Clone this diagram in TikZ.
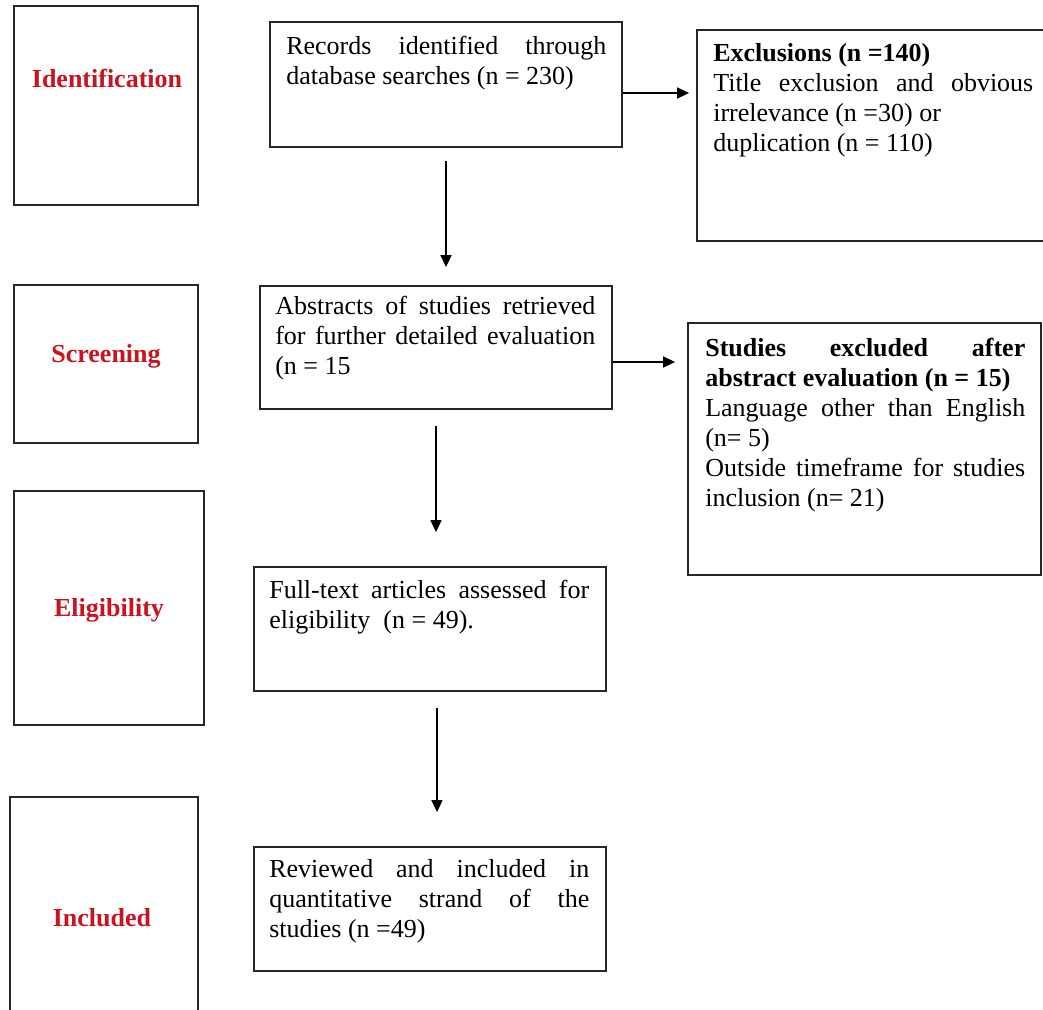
\documentclass[tikz,border=0pt]{standalone}
\usepackage{fontspec}
\setmainfont{Liberation Serif}
\usetikzlibrary{arrows.meta,calc}
\definecolor{stagered}{RGB}{200,20,30}
\begin{document}
\begin{tikzpicture}[x=1pt,y=-1pt,
  frame/.style={draw=black!85, line width=1.8pt, inner sep=0pt},
  stagelabel/.style={text=stagered, font=\fontsize{26}{30}\selectfont\bfseries, inner sep=0pt},
  txt/.style={anchor=north west, text width=320pt, align=justify, inner sep=0pt, font=\fontsize{26}{30}\selectfont},
  arr/.style={draw=black, line width=1.6pt, -{Triangle[length=12pt,width=11pt]}}]
\useasboundingbox (0,0) rectangle (1043,1009);

% stage boxes
\node[frame, minimum width=184pt, minimum height=199pt] (idb) at (106,105.5) {};
\node[frame, minimum width=184pt, minimum height=158pt] (scb) at (106,364) {};
\node[frame, minimum width=190pt, minimum height=234pt] (elb) at (109,608) {};
\node[frame, minimum width=188pt, minimum height=223pt] (inb) at (104,908.5) {};
\node[stagelabel] (idl) at (107,78) {Identification};
\node[stagelabel] (scl) at (106,356) {Screening};
\node[stagelabel] (ell) at (109,610) {Eligibility};
\node[stagelabel] (inl) at (102,918) {Included};

% main flow boxes
\node[frame, minimum width=352pt, minimum height=125pt] (rec) at (446,84.5) {};
\node[frame, minimum width=352pt, minimum height=123pt] (abs) at (436,347.5) {};
\node[frame, minimum width=352pt, minimum height=124pt] (ft) at (430,629) {};
\node[frame, minimum width=352pt, minimum height=124pt] (rev) at (430,909) {};

% exclusion boxes
\node[frame, minimum width=349pt, minimum height=211pt] (exc) at (871.5,135.5) {};
\node[frame, minimum width=353pt, minimum height=252pt] (sex) at (864.5,449) {};

% texts
\node[txt] (rect) at ([shift={(17pt,-12pt)}]rec.north west)
  {\strut Records identified through\linebreak database searches (n = 230)};
\node[txt] (abst) at ([shift={(16pt,-8pt)}]abs.north west)
  {\strut Abstracts of studies retrieved\linebreak for further detailed evaluation\linebreak (n = 15};
\node[txt] (ftt) at ([shift={(16pt,-11pt)}]ft.north west)
  {\strut Full-text articles assessed for\linebreak eligibility~ (n = 49).};
\node[txt] (revt) at ([shift={(16pt,-10pt)}]rev.north west)
  {\strut Reviewed and included in\linebreak quantitative strand of the\linebreak studies (n =49)};
\node[txt] (exct) at ([shift={(17pt,-11pt)}]exc.north west)
  {\strut\textbf{Exclusions (n =140)}\par Title exclusion and obvious\linebreak irrelevance (n =30) or\par duplication (n = 110)};
\node[txt] (sext) at ([shift={(18pt,-13pt)}]sex.north west)
  {\strut\textbf{Studies excluded after\linebreak abstract evaluation (n = 15)}\par Language other than English\linebreak (n= 5)\par Outside timeframe for studies\linebreak inclusion (n= 21)};

% connectors
\draw[arr, shorten >=7pt] ([yshift=-8.5pt]rec.east) -- ([yshift=-8.5pt]rec.east -| exc.west);
\draw[arr, shorten <=13pt, shorten >=18pt] (rec.south) -- (rec.south |- abs.north);
\draw[arr, shorten >=12pt] ([yshift=-14.5pt]abs.east) -- ([yshift=-14.5pt]abs.east -| sex.west);
\draw[arr, shorten <=16pt, shorten >=34pt] (abs.south) -- (abs.south |- ft.north);
\draw[arr, shorten <=16pt, shorten >=34pt] ([xshift=7pt]ft.south) -- ([xshift=7pt]ft.south |- rev.north);
\end{tikzpicture}
\end{document}
